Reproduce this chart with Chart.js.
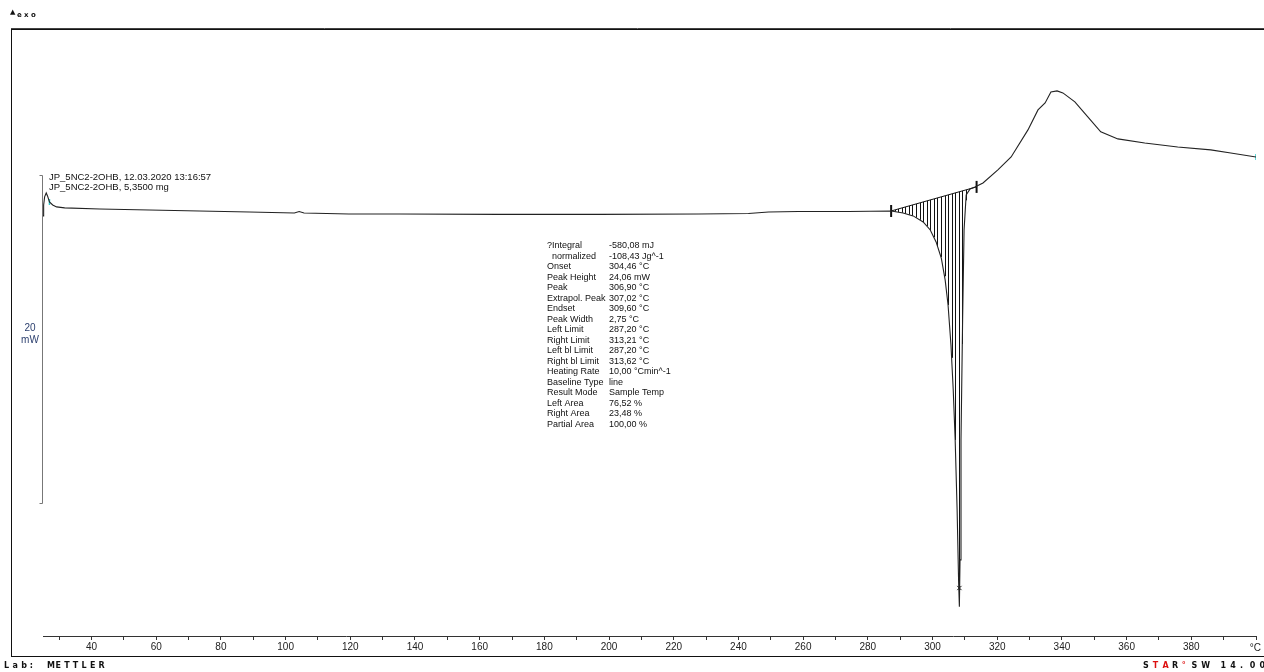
<!DOCTYPE html>
<html>
<head>
<meta charset="utf-8">
<script src="https://cdn.jsdelivr.net/npm/chart.js@4/dist/chart.umd.min.js"></script>
<style>
  body { margin: 0; background: #fff; }
  #wrap { width: 1264px; height: 672px; position: relative; }
</style>
</head>
<body>
<div id="wrap"><canvas id="dsc"></canvas></div>
<script>
// sample temperature (°C) and heat flow (mW)
const temps = [
  25.0, 25.2, 25.5, 26.0, 26.4, 27.0, 28.0, 29.2, 31.7, 42.5, 57.9, 73.3, 88.8,
  102.7, 104.2, 105.7, 119.6, 135.1, 165.9, 196.8, 227.7, 243.1, 249.3, 258.5,
  274.0, 287.2, 290.9, 294.0, 297.1, 299.3, 301.1, 302.7, 303.9, 304.8, 305.7,
  306.4, 307.0, 307.6, 308.05, 308.3, 308.5, 308.8, 309.3, 309.75, 310.4, 311.6,
  313.1, 315.6, 320.2, 324.3, 329.5, 332.6, 334.8, 336.6, 338.5, 340.3, 344.0,
  348.0, 352.0, 357.3, 365.6, 375.8, 386.0, 392.2, 400.0
];
const heatFlow = [
  -0.18, 0.49, 0.98, 1.22, 1.04, 0.67, 0.49, 0.37, 0.31, 0.24, 0.18, 0.12, 0.06,
  0.0, 0.09, 0.0, -0.06, -0.06, -0.09, -0.09, -0.06, -0.03, 0.06, 0.09,
  0.09, 0.12, 0.0, -0.18, -0.55, -1.04, -1.77, -2.75, -4.09, -5.62, -8.06,
  -10.81, -13.86, -18.13, -22.41, -24.05, -21.18, -13.86, -6.53, -1.04, 1.1, 1.47,
  1.59, 1.83, 2.63, 3.42, 5.07, 6.29, 6.72, 7.39, 7.45, 7.33, 6.78,
  5.86, 4.95, 4.52, 4.27, 4.03, 3.85, 3.66, 3.42
];
// integration baseline (left / right bl limit)
const baselineT = [287.2, 313.62];
const baselineV = [0.12, 1.59];
// peak marker
const peakT = [308.3];
const peakV = [-22.9];
// x axis ticks
const tickValues = [30, 40, 50, 60, 70, 80, 90, 100, 110, 120, 130, 140, 150, 160, 170, 180,
  190, 200, 210, 220, 230, 240, 250, 260, 270, 280, 290, 300, 310, 320, 330, 340, 350,
  360, 370, 380, 390, 400];
const labelStep = 20;
const unitLabel = '°C';
// scale bar (mW)
const scaleBarTop = 2.32;
const scaleBarSpan = 20;

const curveName = 'JP_5NC2-2OHB, 12.03.2020 13:16:57';
const sampleName = 'JP_5NC2-2OHB, 5,3500 mg';
const resultNames = ['?Integral', '  normalized', 'Onset', 'Peak Height', 'Peak', 'Extrapol. Peak',
  'Endset', 'Peak Width', 'Left Limit', 'Right Limit', 'Left bl Limit', 'Right bl Limit',
  'Heating Rate', 'Baseline Type', 'Result Mode', 'Left Area', 'Right Area', 'Partial Area'];
const resultValues = ['-580,08 mJ', '-108,43 Jg^-1', '304,46 °C', '24,06 mW', '306,90 °C',
  '307,02 °C', '309,60 °C', '2,75 °C', '287,20 °C', '313,21 °C', '287,20 °C', '313,62 °C',
  '10,00 °Cmin^-1', 'line', 'Sample Temp', '76,52 %', '23,48 %', '100,00 %'];

const curvePts = temps.map((t, i) => ({ x: t, y: heatFlow[i] }));

const interp = (xs, ys, x) => {
  for (let i = 1; i < xs.length; i++) {
    if (x <= xs[i]) {
      const f = (x - xs[i - 1]) / (xs[i] - xs[i - 1]);
      return ys[i - 1] + f * (ys[i] - ys[i - 1]);
    }
  }
  return ys[ys.length - 1];
};

const spaced = (ctx, parts, x, y, step) => {
  parts.forEach(p => {
    for (const ch of p.t) {
      ctx.fillStyle = p.c;
      ctx.fillText(ch, x, y);
      x += step;
    }
  });
};

const decorPlugin = {
  id: 'decor',
  beforeDatasetsDraw(chart) {
    const ctx = chart.ctx;
    const xs = chart.scales.x, ys = chart.scales.y;
    ctx.save();
    // hatching between curve and baseline
    ctx.strokeStyle = '#111';
    ctx.lineWidth = 1;
    ctx.beginPath();
    for (let t = baselineT[0] + 1.1; t < baselineT[1] - 0.2; t += 1.1) {
      const px = Math.round(xs.getPixelForValue(t)) + 0.5;
      const b = interp(baselineT, baselineV, t);
      const c = interp(temps, heatFlow, t);
      ctx.moveTo(px, ys.getPixelForValue(b));
      ctx.lineTo(px, ys.getPixelForValue(c));
    }
    ctx.stroke();
    ctx.restore();
  },
  afterDraw(chart) {
    const ctx = chart.ctx;
    const xs = chart.scales.x, ys = chart.scales.y;
    ctx.save();
    // outer frame
    ctx.strokeStyle = '#111';
    ctx.lineWidth = 1;
    ctx.strokeRect(11.5, 29.5, 1300, 627);
    ctx.strokeStyle = '#444';
    ctx.beginPath();
    ctx.moveTo(11, 28.5);
    ctx.lineTo(1264, 28.5);
    ctx.stroke();

    // scale bar
    const bx = Math.round(xs.getPixelForValue(xs.min)) - 0.5;
    const yTop = Math.round(ys.getPixelForValue(scaleBarTop)) + 0.5;
    const yBot = Math.round(ys.getPixelForValue(scaleBarTop - scaleBarSpan)) + 0.5;
    ctx.strokeStyle = '#777';
    ctx.beginPath();
    ctx.moveTo(bx - 3, yTop);
    ctx.lineTo(bx, yTop);
    ctx.lineTo(bx, yBot);
    ctx.lineTo(bx - 3, yBot);
    ctx.stroke();
    ctx.fillStyle = '#2b3f6e';
    ctx.font = '10px "Liberation Sans", Arial, sans-serif';
    ctx.textAlign = 'center';
    ctx.textBaseline = 'middle';
    const ym = (yTop + yBot) / 2;
    ctx.fillText(scaleBarSpan, 30, ym - 11);
    ctx.fillText('mW', 30, ym + 1);

    // curve names
    ctx.fillStyle = '#111';
    ctx.textAlign = 'left';
    ctx.font = '9.5px "Liberation Sans", Arial, sans-serif';
    ctx.fillText(curveName, 49, 177);
    ctx.fillText(sampleName, 49, 187);

    // evaluation results
    ctx.font = '9px "Liberation Sans", Arial, sans-serif';
    resultNames.forEach((n, i) => {
      const y = 246 + i * 10.5;
      ctx.fillText(n, 547, y);
      ctx.fillText(resultValues[i], 609, y);
    });

    // unit at axis end
    ctx.font = '10px "Liberation Sans", Arial, sans-serif';
    ctx.textAlign = 'right';
    ctx.fillStyle = '#222';
    ctx.fillText(unitLabel, 1261, 648);

    // ^exo, Lab, STAR
    ctx.textAlign = 'left';
    ctx.font = 'bold 7px "DejaVu Sans", sans-serif';
    ctx.fillStyle = '#111';
    ctx.fillText('▲', 10, 12);
    spaced(ctx, [{ t: 'exo', c: '#111' }], 17, 15, 7);
    ctx.font = 'bold 8px "DejaVu Sans", sans-serif';
    spaced(ctx, [{ t: 'Lab: METTLER', c: '#111' }], 4, 666, 8.6);
    spaced(ctx, [
      { t: 'S', c: '#111' }, { t: 'TA', c: '#d11' }, { t: 'R', c: '#111' },
      { t: '°', c: '#d11' }, { t: 'SW 14.00', c: '#111' }
    ], 1143, 666, 9.7);
    ctx.restore();
  }
};

new Chart(document.getElementById('dsc'), {
  type: 'line',
  data: {
    datasets: [
      {
        data: curvePts,
        borderColor: '#222',
        borderWidth: 1.1,
        pointRadius: 0,
        tension: 0,
      },
      {
        data: baselineT.map((t, i) => ({ x: t, y: baselineV[i] })),
        borderColor: '#111',
        borderWidth: 1,
        pointStyle: 'line',
        rotation: 90,
        pointRadius: 6,
        pointBorderWidth: 2,
        pointBorderColor: '#111',
      },
      {
        data: peakT.map((t, i) => ({ x: t, y: peakV[i] })),
        showLine: false,
        pointStyle: 'crossRot',
        pointRadius: 3,
        pointBorderColor: '#111',
        pointBorderWidth: 1,
      },
      {
        data: [curvePts[5], curvePts[curvePts.length - 1]],
        showLine: false,
        pointStyle: 'line',
        rotation: 90,
        pointRadius: 3,
        pointBorderColor: '#3cc',
        pointBorderWidth: 1.5,
      },
    ],
  },
  options: {
    responsive: true,
    maintainAspectRatio: false,
    animation: false,
    layout: { padding: { left: 43, right: 1, top: 30, bottom: 16 } },
    plugins: { legend: { display: false }, tooltip: { enabled: false } },
    scales: {
      x: {
        type: 'linear',
        min: 25,
        max: 400,
        afterBuildTicks: scale => {
          scale.ticks = tickValues.map(v => ({ value: v }));
        },
        afterFit: scale => {
          scale.height = 20;
        },
        grid: { drawOnChartArea: false, tickLength: 4, color: '#333' },
        border: { color: '#333', width: 1 },
        ticks: {
          autoSkip: false,
          maxRotation: 0,
          padding: 1,
          color: '#222',
          font: { family: '"Liberation Sans", Arial, sans-serif', size: 10 },
          callback: v => (v % labelStep === 0 && v < 400 ? v : ''),
        },
      },
      y: {
        type: 'linear',
        display: false,
        min: -25.83,
        max: 11.17,
      },
    },
  },
  plugins: [decorPlugin],
});
</script>
</body>
</html>
